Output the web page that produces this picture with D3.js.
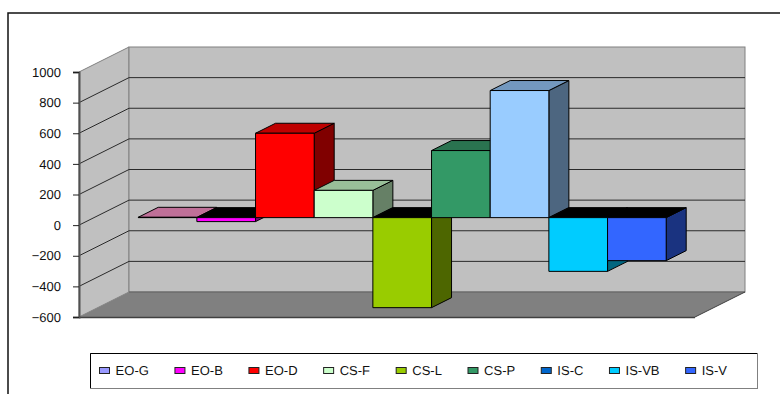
<!DOCTYPE html>
<html><head><meta charset="utf-8">
<script src="https://cdn.jsdelivr.net/npm/d3@7/dist/d3.min.js"></script>
<style>html,body{margin:0;padding:0;background:#fff;overflow:hidden}svg{display:block}text{font-family:"Liberation Sans",Arial,sans-serif;font-size:13px;fill:#111;text-rendering:geometricPrecision}</style>
</head><body><svg id="c" width="780" height="394"></svg>
<script>
const categories = ["EO-G","EO-B","EO-D","CS-F","CS-L","CS-P","IS-C","IS-VB","IS-V"];
const values = [2,-26,551,178,-588,438,830,-351,-281];
const yTicks = [1000,800,600,400,200,0,-200,-400,-600];
const legendColors = ["#9999ff","#ff00ff","#ff0000","#ccffcc","#99cc00","#339966","#0066cc","#00ccff","#3366ff"];
const frontColors = ["#cc6699","#ff00ff","#ff0000","#ccffcc","#99cc00","#339966","#99ccff","#00ccff","#3366ff"];
const topColors = ["#bf7098","#000000","#bf0000","#99bf99","#000000","#2a7350","#7398bf","#000000","#000000"];
const sideColors = ["#806078","#800080","#800000","#668066","#4d6600","#1a4d33","#4d6680","#006680","#1a3380"];

const svg = d3.select("#c");
const L = 79, R = 695, T = 72, B = 317, DX = 50, DY = -25;
const y = d3.scaleLinear().domain([-600,1000]).range([B,T]);
const x = d3.scaleBand().domain(categories).range([L+44.2, R-43.8]);
const off = f => [DX*f, DY*f];
const pts = a => a.map(p=>p.join(",")).join(" ");

// outer frame: open on the right and bottom, as in the reference
svg.append("polyline").attr("points",pts([[8,394],[8,13],[780,13]])).attr("fill","none").attr("stroke","#111").attr("stroke-width",1.5);

// walls & floor
const bk = off(1);
svg.append("polygon").attr("points",pts([[L,y(1000)],[L+bk[0],y(1000)+bk[1]],[L+bk[0],y(-600)+bk[1]],[L,y(-600)]])).attr("fill","#c0c0c0").attr("stroke","#808080");
svg.append("rect").attr("x",L+bk[0]).attr("y",y(1000)+bk[1]).attr("width",R-L).attr("height",B-T).attr("fill","#c0c0c0").attr("stroke","#808080");
svg.append("polygon").attr("points",pts([[L,y(-600)],[R,y(-600)],[R+bk[0],y(-600)+bk[1]],[L+bk[0],y(-600)+bk[1]]])).attr("fill","#808080");
svg.append("line").attr("x1",L+bk[0]).attr("x2",R+bk[0]).attr("y1",y(-600)+bk[1]).attr("y2",y(-600)+bk[1]).attr("stroke","#606060");
svg.append("line").attr("x1",R).attr("y1",y(-600)).attr("x2",R+bk[0]).attr("y2",y(-600)+bk[1]).attr("stroke","#404040");
svg.append("line").attr("x1",L).attr("x2",R).attr("y1",y(-600)+.5).attr("y2",y(-600)+.5).attr("stroke","#404040").attr("stroke-width",1.5);

// gridlines
yTicks.filter(t=>t>-600&&t<1000).forEach(t=>{
  const yy=y(t);
  svg.append("polyline").attr("fill","none").attr("stroke","#2a2a2a").attr("stroke-width",1)
    .attr("points",pts([[L,yy],[L+bk[0],yy+bk[1]],[R+bk[0],yy+bk[1]]]));
});

// axis
const axis = d3.axisLeft(y).tickValues(yTicks).tickSize(6).tickPadding(12).tickFormat(d3.format("d"));
const ag = svg.append("g").attr("transform",`translate(${L},0)`).call(axis);
ag.select(".domain").attr("stroke","#505050").attr("stroke-width",2);
ag.selectAll(".tick line").attr("stroke","#202020");
ag.selectAll("text").style("font-family",'"Liberation Sans",Arial,sans-serif').style("font-size","13px").attr("fill","#111");

// bars, left to right
const f0 = off(0.3), f1 = off(0.7);
const front0x = f0[0], front0y = f0[1], w3d = f1[0]-f0[0], h3d = f1[1]-f0[1];
const g = svg.append("g").attr("stroke","#000").attr("stroke-width",1).attr("stroke-linejoin","round");
categories.forEach((c,i)=>{
  const v=values[i], x0=x(c)+front0x, x1=x0+x.bandwidth();
  const yv=y(v)+front0y, y0v=y(0)+front0y;
  const yt=Math.min(yv,y0v), yb=Math.max(yv,y0v);
  g.append("polygon").attr("points",pts([[x1,yt],[x1+w3d,yt+h3d],[x1+w3d,yb+h3d],[x1,yb]])).attr("fill",sideColors[i]);
  g.append("polygon").attr("points",pts([[x0,yt],[x0+w3d,yt+h3d],[x1+w3d,yt+h3d],[x1,yt]])).attr("fill",topColors[i]);
  g.append("rect").attr("x",x0).attr("y",yt).attr("width",x1-x0).attr("height",yb-yt).attr("fill",frontColors[i]);
});

// legend
svg.append("rect").attr("x",90.5).attr("y",353.5).attr("width",667).attr("height",35).attr("fill","#fff").attr("stroke","#808080");
svg.append("polyline").attr("points",pts([[90.5,388],[90.5,353.5],[757,353.5]])).attr("fill","none").attr("stroke","#000");
let lx=99;
categories.forEach((c,i)=>{
  svg.append("rect").attr("x",lx+.5).attr("y",367.5).attr("width",10).attr("height",6).attr("fill",legendColors[i]).attr("stroke","#222");
  const t=svg.append("text").attr("x",lx+16.6).attr("y",375).text(c);
  lx+=16.6+t.node().getComputedTextLength()+25.6;
});
</script></body></html>
